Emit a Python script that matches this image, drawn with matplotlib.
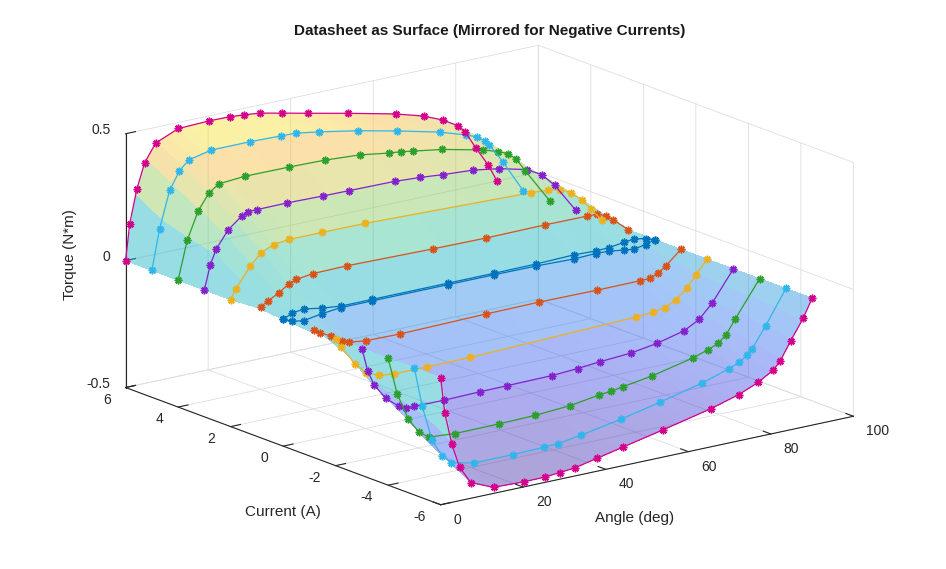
import numpy as np
import matplotlib.pyplot as plt
from matplotlib.colors import LinearSegmentedColormap, Normalize
from mpl_toolkits.mplot3d import proj3d

plt.rcParams['font.family'] = ['Liberation Sans', 'DejaVu Sans']
plt.rcParams['axes.unicode_minus'] = False
plt.rcParams['grid.color'] = '#dedede'
plt.rcParams['grid.linewidth'] = 0.6

# Datasheet curves for positive currents (angle in deg, torque in N*m)
currents = [0, 1, 2, 3, 4, 5, 6]

angle_0 = [0, 2.2, 5.0, 9.4, 13.9, 21.5, 40.0, 51.2, 61.3, 70.5, 75.7, 79.0, 82.5, 85.0, 87.8, 90]
torque_0 = [0, 0.016, 0.023, 0.011, 0.003, 0.003, 0.003, 0.003, 0.004, 0.008, 0.005, 0.007, 0.015, 0.020, 0.012, 0]

angle_1 = [1.0, 2.6, 5.3, 7.8, 9.5, 13.6, 21.9, 42.7, 55.6, 69.7, 80.0, 82.5, 84.5, 86.3, 90]
torque_1 = [0.008, 0.023, 0.047, 0.074, 0.085, 0.094, 0.096, 0.090, 0.088, 0.090, 0.089, 0.088, 0.075, 0.053, 0]

angle_2 = [0, 1.2, 4.7, 7.4, 10.4, 14.2, 22.2, 32.5, 72.8, 76.8, 79.8, 82.4, 85.1, 87.2, 90]
torque_2 = [0, 0.036, 0.115, 0.159, 0.181, 0.188, 0.188, 0.187, 0.168, 0.164, 0.155, 0.135, 0.097, 0.054, 0]

angle_3 = [0, 1.4, 2.9, 5.8, 9.0, 10.6, 12.7, 20.0, 28.7, 35.1, 46.1, 52.3, 57.7, 65.2, 71.4, 78.1, 81.7, 84.9, 90]
torque_3 = [0, 0.092, 0.152, 0.217, 0.259, 0.272, 0.272, 0.273, 0.270, 0.269, 0.267, 0.261, 0.253, 0.245, 0.229, 0.202, 0.170, 0.116, 0]

angle_4 = [0, 2.2, 4.9, 7.5, 9.9, 16.2, 26.9, 35.6, 44.1, 51.0, 54.0, 57.0, 64.0, 73.8, 77.6, 79.9, 81.9, 84.1, 90]
torque_4 = [0, 0.149, 0.257, 0.318, 0.345, 0.353, 0.352, 0.349, 0.340, 0.323, 0.318, 0.310, 0.292, 0.256, 0.236, 0.220, 0.192, 0.138, 0]

angle_5 = [0, 1.9, 4.3, 6.7, 8.9, 14.4, 23.9, 31.3, 34.9, 40.4, 50.0, 59.5, 69.7, 76.2, 78.7, 80.6, 81.8, 85.1, 90]
torque_5 = [0, 0.158, 0.300, 0.369, 0.404, 0.424, 0.424, 0.421, 0.419, 0.405, 0.376, 0.342, 0.302, 0.268, 0.252, 0.230, 0.210, 0.130, 0]

angle_6 = [0, 1.0, 2.7, 4.6, 7.3, 12.8, 20.3, 25.2, 28.8, 32.5, 37.9, 44.1, 53.8, 65.4, 72.2, 76.9, 80.6, 82.2, 84.8, 87.8, 90]
torque_6 = [0, 0.142, 0.271, 0.369, 0.438, 0.476, 0.480, 0.479, 0.474, 0.468, 0.449, 0.427, 0.393, 0.350, 0.318, 0.286, 0.250, 0.222, 0.150, 0.072, 0]

angles = [angle_0, angle_1, angle_2, angle_3, angle_4, angle_5, angle_6]
torques = [torque_0, torque_1, torque_2, torque_3, torque_4, torque_5, torque_6]
line_colors = ['#0072BD', '#D95319', '#EDB120', '#8420CC', '#2CA02C', '#30B6EA', '#D4008C']

angle_ticks = [0, 20, 40, 60, 80, 100]
current_ticks = [-6, -4, -2, 0, 2, 4, 6]
torque_ticks = [-0.5, 0, 0.5]
torque_ticklabels = ['-0.5', '0', '0.5']

# parula-like colormap
parula = LinearSegmentedColormap.from_list('parula_like', [
    (0.00, (0.24, 0.15, 0.66)),
    (0.135, (0.23, 0.23, 0.86)),
    (0.27, (0.18, 0.40, 0.95)),
    (0.406, (0.12, 0.52, 0.90)),
    (0.505, (0.03, 0.69, 0.74)),
    (0.60, (0.20, 0.76, 0.58)),
    (0.70, (0.55, 0.78, 0.30)),
    (0.80, (0.85, 0.75, 0.22)),
    (0.865, (0.97, 0.72, 0.20)),
    (0.94, (0.96, 0.86, 0.17)),
    (1.00, (0.98, 0.98, 0.08)),
])

# Surface grid: curves resampled on a common angle grid, mirrored for negative currents
theta = np.arange(0, 90.01, 2.5)
rows = [np.interp(theta, a, t) for a, t in zip(angles, torques)]
cur_rows = [-c for c in currents[::-1]] + currents
tq_rows = [-r for r in rows[::-1]] + rows
A, I = np.meshgrid(theta, cur_rows)
T = np.array(tq_rows)

norm = Normalize(-0.48, 0.48)
fc = parula(norm(T))


def fade(img, dpi):
    # whole surface drawn with one transparency, so facet seams do not show
    img = img.copy()
    img[..., 3] *= 0.65
    return img, 0, 0


fig = plt.figure(figsize=(9.46, 5.69), dpi=100)
ax = fig.add_subplot(projection='3d', computed_zorder=False)

surf = ax.plot_surface(A, I, T, facecolors=fc, rstride=1, cstride=1, linewidth=0,
                       edgecolor='none', antialiased=False, shade=False, zorder=1)
surf.set_agg_filter(fade)

for c, a, t, col in zip(currents, angles, torques, line_colors):
    for sign in (-1, 1):
        ax.plot(a, np.full(len(a), sign * c), sign * np.array(t), '-', color=col,
                lw=0.9, marker=(8, 2, 0), ms=5.5, mew=1.1, zorder=3)

ax.set_proj_type('ortho')
ax.view_init(elev=16.4, azim=-127.2)
ax.set_xlim(0, 100)
ax.set_ylim(-6, 6)
ax.set_zlim(-0.5, 0.5)
ax.set_xticks(angle_ticks)
ax.set_yticks(current_ticks)
ax.set_zticks(torque_ticks)
ax.set_xticklabels([])
ax.set_yticklabels([])
ax.set_zticklabels([])
ax.tick_params(colors='#262626')

for axis in (ax.xaxis, ax.yaxis, ax.zaxis):
    axis.set_pane_color((1, 1, 1, 0))
    axis.pane.set_edgecolor('#dedede')
    axis.line.set_color('#262626')
    axis.line.set_linewidth(0.8)
    axis._axinfo['tick']['inward_factor'] = 0.0
    axis._axinfo['tick']['outward_factor'] = 0.3
    axis._axinfo['grid']['color'] = '#dedede'
    axis._axinfo['grid']['linewidth'] = 0.6

# fit the projected box onto the reference position
W, H = 946, 569
front_px = np.array([442.0, H - 505.0])
back_px = np.array([537.0, H - 45.0])
centre = (front_px + back_px) / 2
side, zoom = 800.0, 1.0


def to_px(x, y, z):
    x2, y2, _ = proj3d.proj_transform(x, y, z, ax.get_proj())
    return ax.transData.transform((x2, y2))


for _ in range(4):
    ax.set_position([(centre[0] - side / 2) / W, (centre[1] - side / 2) / H, side / W, side / H])
    ax.set_box_aspect((521, 524, 266), zoom=zoom)
    fig.canvas.draw()
    got = np.array([to_px(0, -6, -0.5), to_px(100, 6, 0.5)])
    zoom *= np.linalg.norm(back_px - front_px) / np.linalg.norm(got[1] - got[0])
    centre = centre + (front_px + back_px) / 2 - got.mean(axis=0)
ax.set_position([(centre[0] - side / 2) / W, (centre[1] - side / 2) / H, side / W, side / H])
ax.set_box_aspect((521, 524, 266), zoom=zoom)
fig.canvas.draw()

# tick labels placed next to the projected tick positions
for v in angle_ticks:
    px, py = to_px(v, -6, -0.5)
    fig.text((px + 13) / W, (py - 15) / H, str(v), ha='left', va='center', fontsize=10, color='#262626')
for v in current_ticks:
    px, py = to_px(0, v, -0.5)
    fig.text((px - 15) / W, (py - 12) / H, str(v), ha='right', va='center', fontsize=10, color='#262626')
for v, lab in zip(torque_ticks, torque_ticklabels):
    px, py = to_px(0, 6, v)
    fig.text((px - 15) / W, (py + 4) / H, lab, ha='right', va='center', fontsize=10, color='#262626')

fig.text(0.518, 1 - 31 / H, 'Datasheet as Surface (Mirrored for Negative Currents)',
         ha='center', va='center', fontsize=11, fontweight='bold', color='#1a1a1a')
fig.text(635 / W, 1 - 518 / H, 'Angle (deg)', ha='center', va='center', fontsize=11, color='#262626')
fig.text(283 / W, 1 - 512 / H, 'Current (A)', ha='center', va='center', fontsize=11, color='#262626')
fig.text(70 / W, 1 - 255 / H, 'Torque (N*m)', ha='center', va='center', rotation=90,
         fontsize=11, color='#262626')

fig.savefig('out.png', dpi=100)
